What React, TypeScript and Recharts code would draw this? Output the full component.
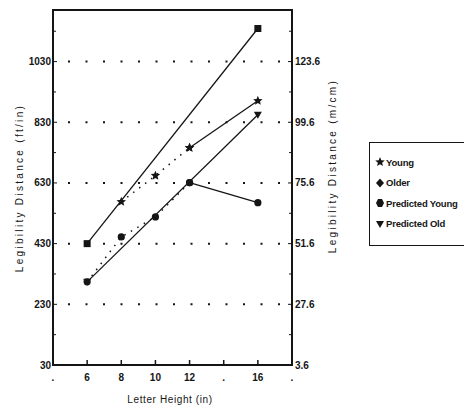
import React from 'react';
import {
  LineChart,
  Line,
  XAxis,
  YAxis,
  ReferenceLine,
  ReferenceArea,
  Label
} from 'recharts';

// letter height (in) and legibility distance (ft/in)
const letterHeights = [6, 8, 10, 12, 16];
const youngValues = [null, 568, 654, 746, 901];
const olderValues = [304, 452, 518, 631, 565];
const predictedYoungValues = [430, null, null, null, 1139];
const predictedOldValues = [304, null, null, null, 855];

const xTicks = [4, 6, 8, 10, 12, 14, 16, 18];
const xTickLabels = ['.', '6', '8', '10', '12', '.', '16', '.'];
const yTicks = [30, 130, 230, 330, 430, 530, 630, 730, 830, 930, 1030, 1130];
const yLabelled = [30, 230, 430, 630, 830, 1030];
const gridValues = [230, 430, 630, 830, 1030];
const FT_IN_TO_M_CM = 0.12;
const splitAt = 12; // observed points joined by dots up to 12 in, solid after

const data = letterHeights.map((x, i) => ({
  x,
  youngDots: x <= splitAt ? youngValues[i] : null,
  youngSolid: x >= splitAt ? youngValues[i] : null,
  olderDots: x <= splitAt ? olderValues[i] : null,
  olderSolid: x >= splitAt ? olderValues[i] : null,
  predYoung: predictedYoungValues[i],
  predOld: predictedOldValues[i]
}));

const INK = '#151515';
const FONT = "'Liberation Sans Narrow', 'Liberation Sans', Arial, sans-serif";

const starPath = (cx: number, cy: number, r: number) => {
  const pts: string[] = [];
  for (let k = 0; k < 10; k++) {
    const rr = k % 2 === 0 ? r : r * 0.45;
    const a = -Math.PI / 2 + (k * Math.PI) / 5;
    pts.push(`${cx + rr * Math.cos(a)},${cy + rr * Math.sin(a)}`);
  }
  return pts.join(' ');
};

const Marker = ({ kind, cx, cy }: any) => {
  if (kind === 'star') return <polygon points={starPath(cx, cy, 5)} fill={INK} />;
  if (kind === 'circle') return <circle cx={cx} cy={cy} r={3.6} fill={INK} />;
  if (kind === 'square') return <rect x={cx - 3.5} y={cy - 3.5} width={7} height={7} fill={INK} />;
  if (kind === 'diamond')
    return <polygon points={`${cx},${cy - 4.5} ${cx + 4},${cy} ${cx},${cy + 4.5} ${cx - 4},${cy}`} fill={INK} />;
  if (kind === 'hex')
    return <polygon points={`${cx - 2},${cy - 4} ${cx + 2},${cy - 4} ${cx + 4},${cy} ${cx + 2},${cy + 4} ${cx - 2},${cy + 4} ${cx - 4},${cy}`} fill={INK} />;
  // predicted old: arrow-like triangle
  return <polygon points={`${cx - 4},${cy - 3} ${cx + 4},${cy - 3} ${cx},${cy + 4}`} fill={INK} />;
};

const dotOf = (kind: string) => (p: any) =>
  p.value == null || p.cy == null ? (
    <g key={`n-${kind}-${p.index}`} />
  ) : (
    <Marker key={`m-${kind}-${p.index}`} kind={kind} cx={p.cx} cy={p.cy} />
  );

const legendItems = [
  { name: 'Young', kind: 'star' },
  { name: 'Older', kind: 'diamond' },
  { name: 'Predicted Young', kind: 'hex' },
  { name: 'Predicted Old', kind: 'tri' }
];

const LegendBox = () => (
  <div
    style={{
      position: 'absolute',
      left: 369,
      top: 142,
      border: `1px solid ${INK}`,
      width: 120,
      height: 104,
      boxSizing: 'border-box',
      padding: '9px 0 0 5px',
      fontFamily: FONT,
      fontWeight: 'bold',
      fontSize: 9.5,
      letterSpacing: -0.2,
      color: INK
    }}
  >
    {legendItems.map((it) => (
      <div key={it.name} style={{ height: 20.5, display: 'flex', alignItems: 'center' }}>
        <svg width={10} height={10} style={{ marginRight: 1 }}>
          <Marker kind={it.kind} cx={5} cy={5} />
        </svg>
        <span>{it.name}</span>
      </div>
    ))}
  </div>
);

const XTick = ({ x, y, payload }: any) => {
  const i = xTicks.indexOf(payload.value);
  const showLine = payload.value > 4 && payload.value < 18;
  return (
    <g>
      {showLine && <line x1={x} x2={x} y1={y - 5} y2={y} stroke={INK} strokeWidth={1.5} />}
      <text x={x} y={y + 16} textAnchor="middle" fontSize={10} fontWeight="bold" fontFamily={FONT} fill={INK}>
        {xTickLabels[i]}
      </text>
    </g>
  );
};

const LeftTick = ({ x, y, payload }: any) => {
  const labelled = yLabelled.includes(payload.value);
  return (
    <g>
      <line x1={x} x2={x + (labelled ? 4 : 3)} y1={y} y2={y} stroke={INK} strokeWidth={1} />
      {labelled && (
        <text x={x - 2} y={y + 3.5} textAnchor="end" fontSize={10} fontWeight="bold" fontFamily={FONT} fill={INK}>
          {payload.value}
        </text>
      )}
    </g>
  );
};

const RightTick = ({ x, y, payload }: any) => {
  const labelled = yLabelled.includes(payload.value);
  return (
    <g>
      <line x1={x - (labelled ? 4 : 3)} x2={x} y1={y} y2={y} stroke={INK} strokeWidth={1} />
      {labelled && (
        <text x={x + 3} y={y + 3.5} textAnchor="start" fontSize={10} fontWeight="bold" fontFamily={FONT} fill={INK}>
          {(payload.value * FT_IN_TO_M_CM).toFixed(1)}
        </text>
      )}
    </g>
  );
};

const rotatedLabel = (text: string, cx: number, cy: number) => () => (
  <text
    x={cx}
    y={cy}
    transform={`rotate(-90 ${cx} ${cy})`}
    textAnchor="middle"
    dominantBaseline="central"
    fontSize={10}
    fontFamily={FONT}
    letterSpacing={2.3}
    fill={INK}
  >
    {text}
  </text>
);

export default function App() {
  return (
    <div style={{ margin: -8, width: 472, height: 413, overflow: 'hidden', background: '#fff', position: 'relative' }}>
      <LineChart width={472} height={413} data={data} margin={{ top: 10, right: 140, bottom: 18, left: 13 }}>
        <XAxis
          dataKey="x"
          type="number"
          domain={[4, 18]}
          ticks={xTicks}
          height={30}
          axisLine={false}
          tickLine={false}
          tickSize={0}
          tickMargin={0}
          tick={<XTick />}
          interval={0}
        >
          <Label
            content={() => (
              <text x={170} y={403} textAnchor="middle" fontSize={10} fontFamily={FONT} letterSpacing={0.6} fill={INK}>
                Letter Height (in)
              </text>
            )}
          />
        </XAxis>
        <YAxis
          yAxisId="left"
          type="number"
          domain={[30, 1200]}
          ticks={yTicks}
          width={40}
          axisLine={false}
          tickLine={false}
          tickSize={0}
          tickMargin={0}
          tick={<LeftTick />}
          interval={0}
        >
          <Label content={rotatedLabel('Legibility Distance (ft/in)', 19, 188)} />
        </YAxis>
        <YAxis
          yAxisId="right"
          orientation="right"
          type="number"
          domain={[30, 1200]}
          ticks={yTicks}
          width={40}
          axisLine={false}
          tickLine={false}
          tickSize={0}
          tickMargin={0}
          tick={<RightTick />}
          interval={0}
        >
          <Label content={rotatedLabel('Legibility Distance (m/cm)', 332, 166)} />
        </YAxis>

        {gridValues.map((v) => (
          <ReferenceLine
            key={v}
            yAxisId="left"
            y={v}
            stroke={INK}
            strokeWidth={2}
            strokeDasharray="2 15.5"
            strokeDashoffset={-15}
          />
        ))}
        <ReferenceArea
          yAxisId="left"
          x1={4}
          x2={18}
          y1={30}
          y2={1200}
          fill="none"
          fillOpacity={0}
          stroke={INK}
          strokeWidth={2}
        />

        <Line yAxisId="right" dataKey="predYoung" stroke={INK} strokeWidth={1.3} connectNulls dot={dotOf('square')} isAnimationActive={false} legendType="none" />
        <Line yAxisId="left" dataKey="predOld" stroke={INK} strokeWidth={1.3} connectNulls dot={dotOf('tri')} isAnimationActive={false} legendType="none" />
        <Line yAxisId="left" dataKey="youngDots" stroke={INK} strokeWidth={1.5} strokeDasharray="1.5 6" dot={dotOf('star')} isAnimationActive={false} legendType="none" />
        <Line yAxisId="left" dataKey="youngSolid" stroke={INK} strokeWidth={1.3} dot={dotOf('star')} isAnimationActive={false} legendType="none" />
        <Line yAxisId="left" dataKey="olderDots" stroke={INK} strokeWidth={1.5} strokeDasharray="1.5 6" dot={dotOf('circle')} isAnimationActive={false} legendType="none" />
        <Line yAxisId="left" dataKey="olderSolid" stroke={INK} strokeWidth={1.3} dot={dotOf('circle')} isAnimationActive={false} legendType="none" />
      </LineChart>
      <LegendBox />
    </div>
  );
}
